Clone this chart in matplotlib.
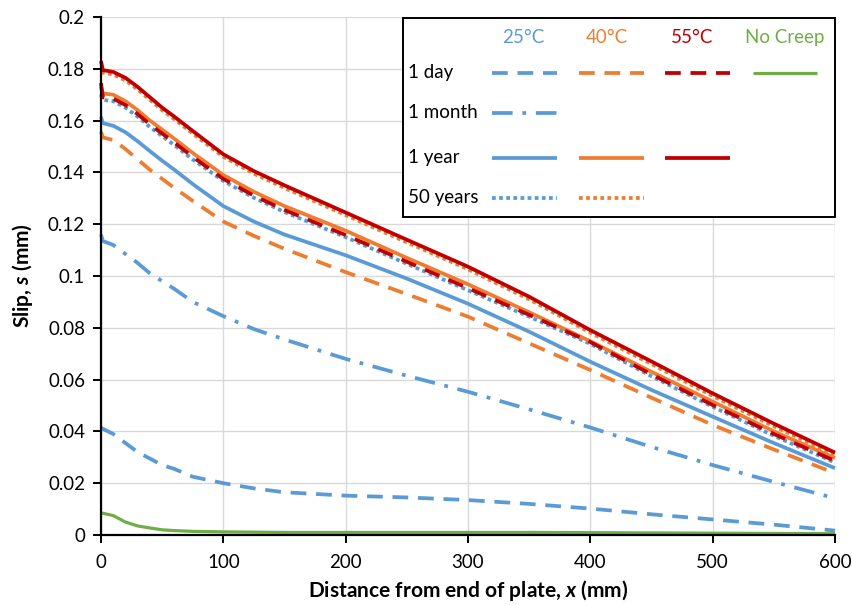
import matplotlib
matplotlib.use("Agg")
import matplotlib.pyplot as plt
from matplotlib.lines import Line2D
from matplotlib.patches import Rectangle

plt.rcParams["font.family"] = ["Lato", "DejaVu Sans"]
plt.rcParams["mathtext.fontset"] = "custom"
plt.rcParams["mathtext.rm"] = "Lato:bold"
plt.rcParams["mathtext.it"] = "Lato:italic:bold"

# ---------------------------------------------------------------------------
# Data
# ---------------------------------------------------------------------------
x_mm = [0, 1.5, 10, 20, 30, 40, 50, 60, 75, 100, 125, 150, 200, 250, 300,
        350, 400, 450, 500, 550, 600]

s25_1day = [0.0415, 0.0410, 0.0390, 0.0355, 0.0320, 0.0295, 0.0270, 0.0255,
            0.0225, 0.0200, 0.0180, 0.0165, 0.0152, 0.0145, 0.0135, 0.0120,
            0.0102, 0.0080, 0.0060, 0.0040, 0.0017]
s25_1month = [0.1160, 0.1135, 0.1120, 0.1085, 0.1050, 0.1010, 0.0980, 0.0950,
              0.0900, 0.0845, 0.0795, 0.0755, 0.0680, 0.0615, 0.0553, 0.0485,
              0.0415, 0.0340, 0.0270, 0.0205, 0.0142]
s25_1year = [0.1615, 0.1590, 0.1580, 0.1555, 0.1520, 0.1482, 0.1445, 0.1410,
             0.1355, 0.1270, 0.1210, 0.1160, 0.1080, 0.0990, 0.0893, 0.0785,
             0.0669, 0.0560, 0.0457, 0.0355, 0.0258]
s25_50years = [0.1700, 0.1680, 0.1675, 0.1650, 0.1615, 0.1575, 0.1540, 0.1505,
               0.1450, 0.1367, 0.1302, 0.1247, 0.1150, 0.1047, 0.0945, 0.0843,
               0.0738, 0.0613, 0.0495, 0.0383, 0.0280]

s40_1day = [0.1557, 0.1535, 0.1525, 0.1490, 0.1450, 0.1410, 0.1375, 0.1340,
            0.1290, 0.1210, 0.1155, 0.1105, 0.1015, 0.0930, 0.0843, 0.0740,
            0.0637, 0.0530, 0.0425, 0.0330, 0.0239]
s40_1year = [0.1730, 0.1705, 0.1700, 0.1675, 0.1640, 0.1600, 0.1565, 0.1530,
             0.1475, 0.1390, 0.1325, 0.1270, 0.1175, 0.1070, 0.0968, 0.0860,
             0.0748, 0.0630, 0.0515, 0.0400, 0.0297]
s40_50years = [0.1785, 0.1785, 0.1778, 0.1755, 0.1720, 0.1680, 0.1640, 0.1605,
               0.1550, 0.1460, 0.1395, 0.1340, 0.1235, 0.1130, 0.1026, 0.0910,
               0.0781, 0.0660, 0.0537, 0.0420, 0.0310]

s55_1day = [0.1745, 0.1690, 0.1685, 0.1660, 0.1625, 0.1585, 0.1550, 0.1515,
            0.1460, 0.1375, 0.1310, 0.1255, 0.1158, 0.1055, 0.0953, 0.0850,
            0.0745, 0.0620, 0.0502, 0.0390, 0.0286]
s55_1year = [0.1830, 0.1795, 0.1788, 0.1765, 0.1730, 0.1690, 0.1650, 0.1615,
             0.1560, 0.1470, 0.1405, 0.1350, 0.1245, 0.1140, 0.1036, 0.0920,
             0.0791, 0.0670, 0.0547, 0.0430, 0.0318]

s_no_creep = [0.0084, 0.0084, 0.0075, 0.0050, 0.0035, 0.0027, 0.0020, 0.0017,
              0.0014, 0.0012, 0.0011, 0.0010, 0.0010, 0.0010, 0.0010, 0.0010,
              0.0009, 0.0008, 0.0007, 0.0006, 0.0005]

x_ticks = [0, 100, 200, 300, 400, 500, 600]
y_ticks = [0, 0.02, 0.04, 0.06, 0.08, 0.1, 0.12, 0.14, 0.16, 0.18, 0.2]
y_tick_labels = ["0", "0.02", "0.04", "0.06", "0.08", "0.1", "0.12", "0.14",
                 "0.16", "0.18", "0.2"]

temps = ["25°C", "40°C", "55°C", "No Creep"]
durations = ["1 day", "1 month", "1 year", "50 years"]

BLUE, ORANGE, RED, GREEN = "#5b9bd5", "#ed7d31", "#c00000", "#70ad47"

# line styles per duration (dash patterns in units of line width)
STYLE = {
    "1 day": dict(lw=2.7, dashes=(4.2, 2.6)),
    "1 month": dict(lw=2.7, dashes=(5.5, 2.6, 1.0, 2.6)),
    "1 year": dict(lw=2.7, ls="-"),
    "50 years": dict(lw=2.7, dashes=(1.0, 0.9)),
    "none": dict(lw=2.3, ls="-"),
}

series = [
    (s25_1day, BLUE, "1 day"),
    (s25_1month, BLUE, "1 month"),
    (s25_1year, BLUE, "1 year"),
    (s25_50years, BLUE, "50 years"),
    (s40_1day, ORANGE, "1 day"),
    (s40_1year, ORANGE, "1 year"),
    (s40_50years, ORANGE, "50 years"),
    (s55_1day, RED, "1 day"),
    (s55_1year, RED, "1 year"),
    (s_no_creep, GREEN, "none"),
]

# ---------------------------------------------------------------------------
fig = plt.figure(figsize=(8.52, 6.05), dpi=100)
ax = fig.add_axes([101 / 852, 1 - 535 / 605, 734 / 852, 518 / 605])

for ys, col, key in series:
    ax.plot(x_mm, ys, color=col, solid_capstyle="butt", dash_capstyle="butt",
            clip_on=False, **STYLE[key])

ax.set_xlim(0, 600)
ax.set_ylim(0, 0.2)
ax.set_xticks(x_ticks)
ax.set_yticks(y_ticks)
ax.set_yticklabels(y_tick_labels)
ax.grid(True, color="#d9d9d9", lw=1.0)
ax.set_axisbelow(True)
for side in ("top", "right"):
    ax.spines[side].set_visible(False)
for side in ("left", "bottom"):
    ax.spines[side].set_linewidth(1.6)
    ax.spines[side].set_zorder(3)
ax.tick_params(direction="out", length=5.5, width=1.4, labelsize=13.5,
               colors="black")
ax.tick_params(axis="y", pad=6)
ax.tick_params(axis="x", pad=8)
ax.set_xlabel(r"Distance from end of plate, $x$ (mm)", fontsize=15,
              fontweight="bold", labelpad=5)
ax.set_ylabel(r"Slip, $s$ (mm)", fontsize=15, fontweight="bold", labelpad=9)

# ---------------------------------------------------------------------------
# Table-style legend (drawn in axes fraction)
# ---------------------------------------------------------------------------
T = ax.transAxes
ax.add_patch(Rectangle((0.411, 0.614), 0.589, 0.384, transform=T, fc="white",
                       ec="black", lw=1.4, zorder=5, clip_on=False))

head_x = [0.575, 0.689, 0.805, 0.932]
head_c = [BLUE, ORANGE, RED, GREEN]
for hx, txt, col in zip(head_x, temps, head_c):
    ax.text(hx, 0.961, txt, transform=T, color=col, fontsize=13.5,
            ha="center", va="center", zorder=6)

row_y = [0.892, 0.815, 0.728, 0.651]
for ry, txt in zip(row_y, durations):
    ax.text(0.418, ry, txt, transform=T, fontsize=13.5, ha="left",
            va="center", zorder=6)

col_x = [(0.533, 0.621), (0.651, 0.740), (0.768, 0.857), (0.888, 0.975)]
for ys, col, key in series:
    ci = head_c.index(col)
    ri = 0 if key == "none" else durations.index(key)
    x0, x1 = col_x[ci]
    ax.add_line(Line2D([x0, x1], [row_y[ri]] * 2, transform=T, color=col,
                       solid_capstyle="butt", dash_capstyle="butt",
                       zorder=6, clip_on=False, **STYLE[key]))

fig.savefig("out.png", dpi=100)
